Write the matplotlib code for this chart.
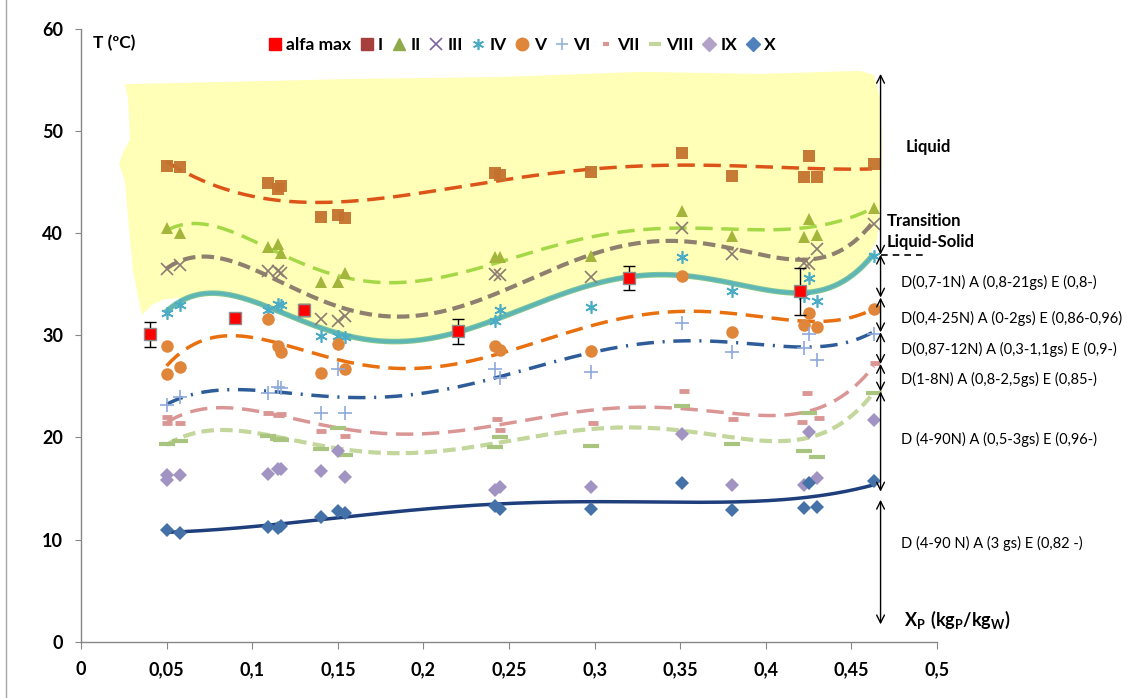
import numpy as np
import matplotlib
matplotlib.use('Agg')
import matplotlib.pyplot as plt
from matplotlib.lines import Line2D
from matplotlib.ticker import FuncFormatter

plt.rcParams['font.family'] = ['Lato', 'DejaVu Sans']
plt.rcParams['mathtext.fontset'] = 'custom'
plt.rcParams['mathtext.rm'] = 'Lato'
plt.rcParams['mathtext.bf'] = 'Lato:bold'

# ---- measured points (x = Xp kgP/kgW, T in ºC) ----
x_common = [0.050, 0.058, 0.109, 0.115, 0.117, 0.140, 0.150, 0.154, 0.242,
            0.245, 0.298, 0.351, 0.380, 0.422, 0.425, 0.430, 0.463]
x_double = [0.050, 0.050, 0.058, 0.109, 0.115, 0.117, 0.140, 0.150, 0.154,
            0.242, 0.245, 0.298, 0.351, 0.380, 0.422, 0.425, 0.430, 0.463]

T_I = [46.6, 46.5, 44.9, 44.3, 44.6, 41.6, 41.8, 41.5, 45.85, 45.7, 45.95,
       47.9, 45.6, 45.5, 47.6, 45.5, 46.8]
T_II = [40.5, 40.0, 38.7, 38.9, 38.1, 35.2, 35.2, 36.1, 37.7, 37.7, 37.8,
        42.2, 39.7, 39.6, 41.4, 39.8, 42.5]
T_III = [36.5, 36.9, 36.3, 36.3, 36.1, 31.6, 31.4, 31.9, 36.0, 35.9, 35.7,
         40.5, 38.0, 37.1, 37.0, 38.5, 40.9]
T_IV = [32.2, 33.0, 32.5, 33.1, 33.0, 29.9, 29.9, 29.8, 31.4, 32.5, 32.8,
        37.7, 34.3, 33.9, 35.6, 33.4, 37.8]
T_V = [29.0, 26.2, 26.9, 31.6, 29.0, 28.4, 26.3, 29.2, 26.7, 28.95, 28.6,
       28.5, 35.8, 30.3, 31.0, 32.2, 30.8, 32.6]
T_VI = [23.2, 24.0, 24.4, 24.9, 24.8, 22.35, 26.7, 22.35, 26.7, 25.8, 26.4,
        31.2, 28.4, 28.8, 30.1, 27.6, 30.1]
x_VII = [0.050, 0.050, 0.058, 0.109, 0.115, 0.117, 0.140, 0.154, 0.243,
         0.245, 0.299, 0.352, 0.381, 0.421, 0.424, 0.431, 0.464]
T_VII = [22.0, 21.4, 21.4, 22.4, 22.2, 22.3, 20.6, 20.1, 21.8, 20.7, 21.4,
         24.6, 21.8, 21.5, 24.4, 21.9, 27.3]
T_VIII = [19.4, 19.7, 20.1, 19.9, 19.8, 18.9, 20.9, 18.3, 19.1, 20.0, 19.2,
          23.1, 19.4, 18.7, 22.4, 18.1, 24.4]
T_IX = [16.3, 15.8, 16.3, 16.4, 16.9, 16.9, 16.7, 18.7, 16.1, 14.9, 15.2,
        15.2, 20.3, 15.3, 15.3, 20.5, 16.0, 21.7]
T_X = [10.9, 10.65, 11.2, 11.15, 11.3, 12.2, 12.8, 12.6, 13.3, 13.0, 13.0,
       15.55, 12.9, 13.1, 15.55, 13.2, 15.7]

x_alfa = [0.04, 0.09, 0.13, 0.22, 0.32, 0.42]
T_alfa = [30.1, 31.7, 32.5, 30.4, 35.6, 34.3]
err_alfa = [1.2, 0.3, 0.6, 1.2, 1.15, 2.3]

# ---- trend lines ----
cx_I = [0.05, 0.08, 0.11, 0.14, 0.17, 0.21, 0.25, 0.29, 0.33, 0.37, 0.41, 0.462]
cT_I = [47.0, 44.6, 43.3, 43.0, 43.3, 44.3, 45.3, 46.1, 46.6, 46.7, 46.4, 46.3]
cx_II = [0.05, 0.065, 0.081, 0.108, 0.126, 0.155, 0.171, 0.189, 0.218, 0.247,
         0.286, 0.326, 0.345, 0.392, 0.421, 0.443, 0.462]
cT_II = [40.3, 40.8, 40.7, 38.8, 37.0, 35.65, 35.3, 35.2, 36.0, 37.3, 39.1,
         40.3, 40.6, 40.3, 40.5, 41.2, 42.4]
cx_III = [0.05, 0.056, 0.069, 0.087, 0.108, 0.126, 0.155, 0.171, 0.189, 0.218,
          0.247, 0.286, 0.316, 0.345, 0.372, 0.412, 0.427, 0.45, 0.462]
cT_III = [36.6, 37.1, 37.6, 37.45, 36.0, 34.3, 32.5, 32.1, 31.9, 32.7, 34.3,
          37.1, 38.75, 39.5, 38.6, 37.45, 37.45, 39.1, 40.9]
cx_IV = [0.05, 0.061, 0.077, 0.093, 0.108, 0.126, 0.155, 0.171, 0.189, 0.218,
         0.247, 0.286, 0.316, 0.345, 0.372, 0.412, 0.431, 0.45, 0.462]
cT_IV = [32.4, 33.5, 34.1, 33.9, 32.9, 31.4, 30.1, 29.5, 29.35, 30.3, 31.9,
         34.2, 35.65, 36.0, 35.3, 34.3, 34.3, 35.8, 37.8]
cx_V = [0.05, 0.061, 0.077, 0.093, 0.108, 0.126, 0.155, 0.171, 0.189, 0.218,
        0.247, 0.286, 0.316, 0.345, 0.372, 0.412, 0.435, 0.455, 0.462]
cT_V = [27.0, 28.7, 29.7, 29.9, 29.6, 28.8, 27.4, 26.9, 26.7, 27.15, 28.5,
        30.3, 31.6, 32.3, 32.3, 31.6, 31.3, 32.0, 32.55]
cx_VI = [0.05, 0.065, 0.087, 0.108, 0.126, 0.155, 0.171, 0.198, 0.228, 0.247,
         0.286, 0.326, 0.345, 0.372, 0.412, 0.431, 0.455, 0.462]
cT_VI = [23.2, 24.3, 24.7, 24.5, 24.2, 24.0, 23.9, 24.4, 25.2, 25.95, 27.97,
         29.1, 29.35, 29.45, 29.0, 28.8, 29.7, 30.3]
cx_VII = [0.05, 0.065, 0.081, 0.108, 0.126, 0.155, 0.171, 0.189, 0.218, 0.247,
          0.286, 0.316, 0.345, 0.372, 0.402, 0.421, 0.441, 0.457, 0.463]
cT_VII = [21.45, 22.6, 22.9, 22.4, 21.8, 20.85, 20.4, 20.3, 20.6, 21.4, 22.4,
          22.9, 22.9, 22.4, 22.25, 22.5, 23.7, 25.4, 27.3]
cx_VIII = [0.05, 0.065, 0.083, 0.108, 0.126, 0.155, 0.171, 0.189, 0.218,
           0.247, 0.286, 0.316, 0.345, 0.372, 0.402, 0.421, 0.441, 0.457, 0.463]
cT_VIII = [19.3, 20.3, 20.8, 20.3, 19.6, 18.8, 18.55, 18.55, 18.8, 19.5, 20.6,
           21.05, 20.85, 20.1, 19.6, 19.9, 21.1, 23.2, 24.4]
cx_X = [0.05, 0.077, 0.108, 0.136, 0.171, 0.208, 0.247, 0.286, 0.345, 0.372,
        0.412, 0.441, 0.462]
cT_X = [10.7, 11.0, 11.3, 11.96, 12.5, 13.1, 13.5, 13.7, 13.7, 13.65, 13.9,
        14.6, 15.3]

# yellow liquid zone outline
zone_x = [0.0257, 0.0275, 0.0286, 0.0245, 0.0222, 0.0257, 0.0269, 0.0286,
          0.0304, 0.0345, 0.0357, 0.0415, 0.0479, 0.0579]
zone_T = [54.6, 53.1, 49.2, 47.9, 46.8, 45.0, 42.6, 39.4, 36.2, 32.8, 32.0,
          33.0, 33.5, 33.7]
zone_right_x = [0.461, 0.465, 0.467, 0.468, 0.467, 0.463, 0.455, 0.397, 0.327,
                0.245, 0.157, 0.081, 0.0257]
zone_right_T = [38.1, 39.4, 43.3, 48.2, 53.1, 55.5, 55.9, 55.6, 55.8, 55.3,
                55.1, 54.8, 54.6]

# zone boundaries of the right-hand arrows
arrow_x = 0.467
zones = [(55.6, 37.9), (37.9, 33.7), (33.7, 30.3), (30.3, 27.2), (27.2, 24.5),
         (24.5, 14.7), (13.9, 1.7)]
zone_texts = ['D(0,7-1N) A (0,8-21gs) E (0,8-)',
              'D(0,4-25N) A (0-2gs) E (0,86-0,96)',
              'D(0,87-12N) A (0,3-1,1gs) E (0,9-)',
              'D(1-8N) A (0,8-2,5gs) E (0,85-)',
              'D (4-90N) A (0,5-3gs) E (0,96-)',
              'D (4-90 N) A (3 gs) E (0,82 -)']
zone_text_T = [35.15, 31.7, 28.6, 25.7, 19.8, 9.6]

x_ticks = [0, 0.05, 0.1, 0.15, 0.2, 0.25, 0.3, 0.35, 0.4, 0.45, 0.5]
y_ticks = [0, 10, 20, 30, 40, 50, 60]


def smooth(cx, cT):
    p = np.polyfit(cx, cT, 6)
    xs = np.linspace(cx[0], cx[-1], 300)
    return xs, np.polyval(p, xs)


fig = plt.figure(figsize=(11.35, 6.98), dpi=100)
ax = fig.add_axes([0.0714, 0.0806, 0.7542, 0.8779])

# yellow zone (bottom edge runs just under trend IV)
xs4, ys4 = smooth(cx_IV, cT_IV)
sel = xs4 >= 0.06
poly_x = zone_x + list(xs4[sel]) + zone_right_x
poly_T = zone_T + list(ys4[sel] - 0.3) + zone_right_T
ax.fill(poly_x, poly_T, color='#FFFFB8', lw=0, zorder=0)

# trend lines
xs, ys = smooth(cx_I, cT_I)
ax.plot(xs, ys, color='#DC5418', lw=2.5, dashes=(5, 2.5), zorder=2)
xs, ys = smooth(cx_II, cT_II)
ax.plot(xs, ys, color='#A5D846', lw=2.5, dashes=(5, 2.5), zorder=2)
xs, ys = smooth(cx_III, cT_III)
ax.plot(xs, ys, color='#8E7F6E', lw=3, dashes=(3, 1.5), zorder=2)
ax.plot(xs4, ys4, color='#7CC49C', lw=4, zorder=2)
ax.plot(xs4, ys4, color='#4BACC6', lw=2.5, alpha=0.6, zorder=2)
xs, ys = smooth(cx_V, cT_V)
ax.plot(xs, ys, color='#E8700F', lw=2.5, dashes=(5, 2.5), zorder=2)
xs, ys = smooth(cx_VI, cT_VI)
ax.plot(xs, ys, color='#2E5C98', lw=2.5, dashes=(5, 2.5, 0.6, 2.5), zorder=2)
xs, ys = smooth(cx_VII, cT_VII)
ax.plot(xs, ys, color='#DA9694', lw=2.5, dashes=(5, 2.5), zorder=2)
xs, ys = smooth(cx_VIII, cT_VIII)
ax.plot(xs, ys, color='#C3D69B', lw=3, dashes=(3, 1.5), zorder=2)
xs, ys = smooth(cx_X, cT_X)
ax.plot(xs, ys, color='#1F3E7C', lw=2.5, zorder=2)

# markers
ms = 9
ax.plot(x_common, T_I, 's', color='#C3732F', ms=ms, mew=0, alpha=0.95, zorder=3)
ax.plot(x_common, T_II, '^', color='#A3B53A', ms=ms, mew=0, zorder=3)
ax.plot(x_common, T_III, 'x', color='#8C7B70', ms=ms, mew=1.2, zorder=3)
ax.plot(x_common, T_IV, marker=(6, 2, 0), ls='none', color='#4BACC6', ms=ms,
        mew=1.2, zorder=3)
ax.plot(x_double, T_V, 'o', color='#E0863A', ms=ms, mew=0, zorder=3)
ax.plot(x_common, T_VI, '+', color='#8EA9DB', ms=10, mew=1.2, zorder=3)
ax.plot(x_VII, T_VII, '_', color='#DA9694', ms=7, mew=3.5, zorder=3)
ax.plot(x_common, T_VIII, '_', color='#A9C47F', ms=11, mew=3, zorder=3)
ax.plot(x_double, T_IX, 'D', color='#A294C2', ms=7.5, mew=0, zorder=3)
ax.plot(x_common, T_X, 'D', color='#4472A8', ms=7.5, mew=0, zorder=3)
ax.errorbar(x_alfa, T_alfa, yerr=err_alfa, fmt='s', color='#FF0000', ms=8,
            mec='#8C8C8C', mew=1, ecolor='black', elinewidth=1, capsize=4,
            zorder=4)

# legend
leg_handles = [
    Line2D([], [], ls='none', marker='s', color='#FF0000', ms=8),
    Line2D([], [], ls='none', marker='s', color='#A5403C', ms=8),
    Line2D([], [], ls='none', marker='^', color='#8EAA4A', ms=9),
    Line2D([], [], ls='none', marker='x', color='#8064A2', ms=8, mew=1.2),
    Line2D([], [], ls='none', marker=(6, 2, 0), color='#4BACC6', ms=8, mew=1.2),
    Line2D([], [], ls='none', marker='o', color='#E0863A', ms=9),
    Line2D([], [], ls='none', marker='+', color='#95B3D7', ms=9, mew=1.2),
    Line2D([], [], ls='none', marker='_', color='#DA9694', ms=5, mew=3),
    Line2D([], [], ls='none', marker='_', color='#C3D69B', ms=9, mew=3),
    Line2D([], [], ls='none', marker='D', color='#B3A2C7', ms=7),
    Line2D([], [], ls='none', marker='D', color='#4F81BD', ms=7),
]
leg_labels = ['alfa max', 'I', 'II', 'III', 'IV', 'V', 'VI', 'VII', 'VIII',
              'IX', 'X']
ax.legend(leg_handles, leg_labels, loc='center', bbox_to_anchor=(0.515, 0.974),
          ncol=11, frameon=False, handlelength=0.8, handletextpad=0.25,
          columnspacing=0.5, prop={'weight': 'bold', 'size': 12.5})

# right hand zone arrows and texts
for top, bot in zones:
    ax.annotate('', xy=(arrow_x, top), xytext=(arrow_x, bot),
                arrowprops=dict(arrowstyle='<->', lw=1, color='black',
                                shrinkA=0, shrinkB=0, mutation_scale=14),
                annotation_clip=False)
ax.plot([arrow_x, 0.494], [37.9, 37.9], color='black', lw=1.2,
        dashes=(4, 3), clip_on=False)
ax.text(0.4816, 48.4, 'Liquid', fontsize=12, fontweight='bold',
        va='center', ha='left', clip_on=False)
ax.text(0.4705, 41.2, 'Transition', fontsize=12, fontweight='bold',
        va='center', ha='left', clip_on=False)
ax.text(0.4705, 39.1, 'Liquid-Solid', fontsize=12, fontweight='bold',
        va='center', ha='left', clip_on=False)
for txt, tv in zip(zone_texts, zone_text_T):
    ax.text(0.479, tv, txt, fontsize=10.5, va='center', ha='left',
            clip_on=False)
ax.text(0.4804, 2.1, r'$\mathbf{X_P\ (kg_P/kg_W)}$', fontsize=13,
        va='center', ha='left', clip_on=False)
ax.text(0.007, 58.6, 'T (ºC)', fontsize=12.5, fontweight='bold',
        va='center', ha='left')

# axes styling
ax.set_xlim(0, 0.5)
ax.set_ylim(0, 60)
ax.set_xticks(x_ticks)
ax.set_yticks(y_ticks)
ax.xaxis.set_major_formatter(FuncFormatter(lambda v, p: ('%g' % v).replace('.', ',')))
for s in ['top', 'right']:
    ax.spines[s].set_visible(False)
for s in ['left', 'bottom']:
    ax.spines[s].set_color('#868686')
    ax.spines[s].set_linewidth(1)
ax.tick_params(axis='x', direction='out', length=5, color='#868686', pad=9,
               labelsize=13)
ax.tick_params(axis='y', direction='out', length=4, color='#868686', pad=9,
               labelsize=13)
for lab in ax.get_xticklabels() + ax.get_yticklabels():
    lab.set_fontweight('bold')

fig.add_artist(Line2D([6 / 1135, 6 / 1135], [0, 1], color='#A6A6A6', lw=1))

plt.savefig('out.png', dpi=100)
